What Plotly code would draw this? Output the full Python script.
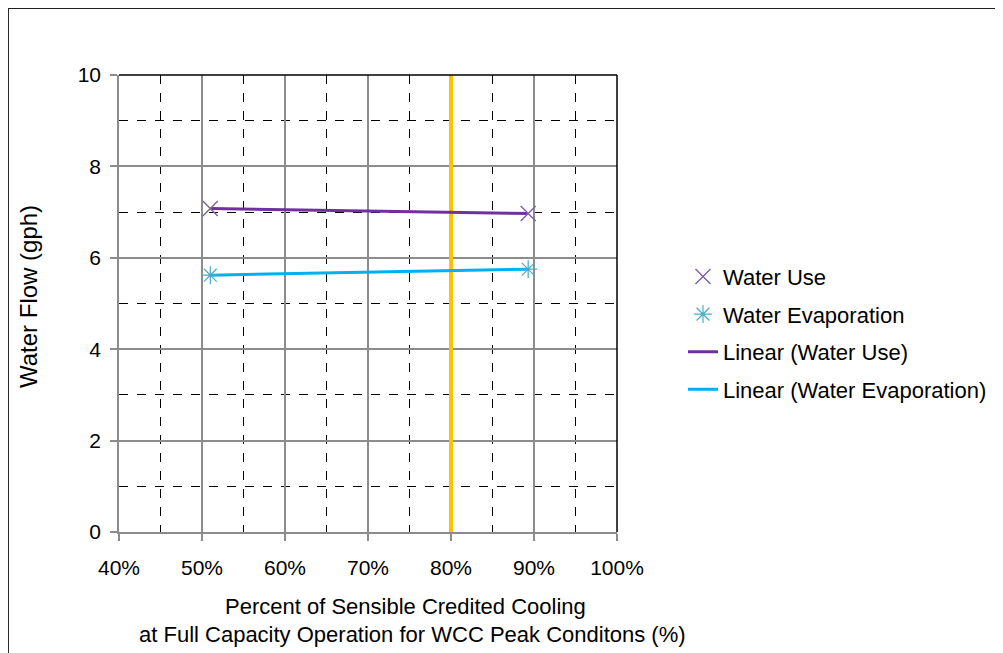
import numpy as np
import plotly.graph_objects as go

# values
pct_cooling = [51.0, 89.3]
water_use = [7.08, 6.97]
water_evap = [5.62, 5.75]
design_point = 80

x_ticks = [40, 50, 60, 70, 80, 90, 100]
x_labels = ["40%", "50%", "60%", "70%", "80%", "90%", "100%"]

FONT = "Liberation Sans, Arial, sans-serif"


def trend(x, y):
    slope, icpt = np.polyfit(x, y, 1)
    xs = np.array([min(x), max(x)])
    return xs, slope * xs + icpt


fig = go.Figure()

fig.add_trace(
    go.Scatter(
        x=[design_point, design_point],
        y=[0, 10],
        mode="lines",
        line=dict(color="#FFC000", width=4),
        showlegend=False,
        hoverinfo="skip",
    )
)

tx, ty = trend(pct_cooling, water_use)
fig.add_trace(
    go.Scatter(
        x=tx, y=ty, mode="lines", name="Linear (Water Use)",
        line=dict(color="#7030A0", width=3), legendrank=3, legendgroup="c",
    )
)
tx, ty = trend(pct_cooling, water_evap)
fig.add_trace(
    go.Scatter(
        x=tx, y=ty, mode="lines", name="Linear (Water Evaporation)",
        line=dict(color="#00B0F0", width=3), legendrank=4, legendgroup="d",
    )
)

fig.add_trace(
    go.Scatter(
        x=pct_cooling, y=water_use, mode="markers", name="Water Use",
        marker=dict(symbol="x-thin", size=15, color="#8064A2",
                    line=dict(color="#8064A2", width=1.5)),
        legendrank=1, legendgroup="a",
    )
)
fig.add_trace(
    go.Scatter(
        x=pct_cooling, y=water_evap, mode="markers", name="Water Evaporation",
        marker=dict(symbol="asterisk", size=15, color="#4BACC6",
                    line=dict(color="#4BACC6", width=1.2)),
        legendrank=2, legendgroup="b",
    )
)

fig.update_layout(
    width=1003,
    height=653,
    margin=dict(l=111, r=394, t=67, b=129),
    plot_bgcolor="white",
    paper_bgcolor="white",
    font=dict(family=FONT, size=21, color="black"),
    legend=dict(
        x=1.1325, y=0.435, xanchor="left", yanchor="middle",
        font=dict(size=22), traceorder="grouped", tracegroupgap=6,
    ),
    xaxis=dict(
        range=[40, 100], tickmode="array", tickvals=x_ticks, ticktext=x_labels,
        showgrid=True, gridcolor="#8C8C8C", gridwidth=1.5,
        showline=True, linecolor="#8C8C8C", linewidth=1.5,
        ticks="outside", ticklen=7, tickcolor="#8C8C8C", tickwidth=1.5,
        ticklabelstandoff=9, zeroline=False,
        minor=dict(dtick=10, tick0=45, showgrid=True, gridcolor="black",
                   griddash="dash", gridwidth=1),
    ),
    yaxis=dict(
        range=[0, 10], dtick=2,
        showgrid=True, gridcolor="#8C8C8C", gridwidth=1.5,
        showline=True, linecolor="#8C8C8C", linewidth=1.5,
        ticks="outside", ticklen=7, tickcolor="#8C8C8C", tickwidth=1.5,
        ticklabelstandoff=5, zeroline=False,
        minor=dict(dtick=2, tick0=1, showgrid=True, gridcolor="black",
                   griddash="dash", gridwidth=1),
    ),
    shapes=[
        dict(type="line", xref="paper", yref="paper", x0=0, x1=1, y0=1, y1=1,
             line=dict(color="black", width=1.5)),
        dict(type="line", xref="paper", yref="paper", x0=1, x1=1, y0=0, y1=1,
             line=dict(color="black", width=1.5)),
        dict(type="rect", xref="paper", yref="paper", x0=-0.223, x1=1.9,
             y0=-0.5, y1=1.1466, line=dict(color="#202020", width=2)),
    ],
    annotations=[
        dict(text="Water Flow (gph)", xref="paper", yref="paper", x=-0.183, y=0.516,
             xanchor="center", yanchor="middle",
             textangle=-90, showarrow=False, font=dict(size=24)),
        dict(text="Percent of Sensible Credited Cooling", xref="paper", yref="paper",
             x=0.575, y=-0.164, xanchor="center", yanchor="middle",
             showarrow=False, font=dict(size=22)),
        dict(text="at Full Capacity Operation for WCC Peak Conditons (%)", xref="paper",
             yref="paper", x=0.59, y=-0.225, xanchor="center", yanchor="middle",
             showarrow=False, font=dict(size=22)),
    ],
)

fig.write_html("out.html")
